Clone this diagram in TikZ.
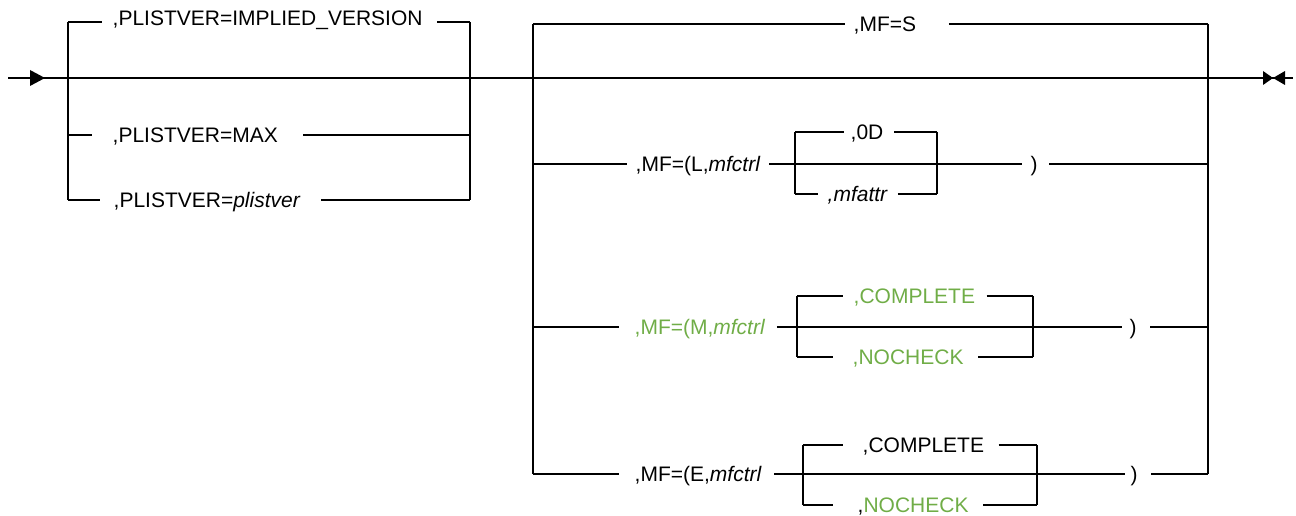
\documentclass[tikz,border=0pt]{standalone}
\usepackage{fontspec}
\setmainfont{Liberation Sans}
\usetikzlibrary{calc}
\definecolor{sgreen}{HTML}{70AD47}
\begin{document}
\begin{tikzpicture}[x=0.75pt,y=-0.75pt,line width=1pt,
  lbl/.style={anchor=west,inner sep=0pt,text height=11.3pt,text depth=0pt,font=\fontsize{15.75}{18}\selectfont},
  grn/.style={text=sgreen}]
\useasboundingbox (0,0) rectangle (1296,516);
% main line
\coordinate (start) at (8,78);
\coordinate (tipA) at (45,78);
\coordinate (endT) at (1273,78);
\coordinate (stop) at (1293,78);
\draw (start) -- (stop);
\fill ($(tipA)+(-15,-8)$) -- (tipA) -- ($(tipA)+(-15,8)$) -- cycle;
\fill ($(endT)+(-10,-7)$) -- (endT) -- ($(endT)+(-10,7)$) -- cycle;
\fill ($(endT)+(12,-7)$) -- (endT) -- ($(endT)+(12,7)$) -- cycle;
% left group
\coordinate (aTL) at (68,22); \coordinate (aBL) at (68,200);
\coordinate (aTR) at (470,22); \coordinate (aBR) at (470,200);
\coordinate (aML) at (68,135); \coordinate (aMR) at (470,135);
\draw (aTL) -- (aBL); \draw (aTR) -- (aBR);
\node[lbl,text depth=6pt] (p1) at (112,22) {,PLISTVER=IMPLIED\_VERSION};
\draw (aTL) -- ($(p1.west)+(-10,0)$);
\draw ($(p1.east)+(14,0)$) -- (aTR);
\node[lbl] (p2) at (112,135) {,PLISTVER=MAX};
\draw (aML) -- ($(p2.west)+(-20,0)$);
\draw ($(p2.east)+(25,0)$) -- (aMR);
\node[lbl] (p3) at (113,200) {,PLISTVER=\textit{plistver}};
\draw (aBL) -- ($(p3.west)+(-13,0)$);
\draw ($(p3.east)+(20,0)$) -- (aBR);
% right group
\coordinate (bTL) at (533,24); \coordinate (bBL) at (533,474);
\coordinate (bTR) at (1208,24); \coordinate (bBR) at (1208,474);
\draw (bTL) -- (bBL); \draw (bTR) -- (bBR);
\node[lbl] (s1) at (853,24) {,MF=S};
\draw (bTL) -- ($(s1.west)+(-8,0)$);
\draw ($(s1.east)+(32,0)$) -- (bTR);
% L branch
\coordinate (bL) at (533,164); \coordinate (bLr) at (1208,164);
\node[lbl] (l1) at (635,164) {,MF=(L,\textit{mfctrl}};
\draw (bL) -- ($(l1.west)+(-8,0)$);
\node[lbl] (lp) at (1030,164) {)};
\draw ($(l1.east)+(8,0)$) -- ($(lp.west)+(-8,0)$);
\draw ($(lp.east)+(11,0)$) -- (bLr);
\coordinate (lbTL) at (795,132); \coordinate (lbBL) at (795,194);
\coordinate (lbTR) at (937,132); \coordinate (lbBR) at (937,194);
\draw (lbTL) -- (lbBL); \draw (lbTR) -- (lbBR);
\node[lbl] (l0d) at (850,132) {,0D};
\draw (lbTL) -- ($(l0d.west)+(-6,0)$); \draw ($(l0d.east)+(10,0)$) -- (lbTR);
\node[lbl] (lmf) at (827,194) {\itshape ,mfattr};
\draw (lbBL) -- ($(lmf.west)+(-9,0)$); \draw ($(lmf.east)+(10,0)$) -- (lbBR);
% M branch
\coordinate (bM) at (533,327); \coordinate (bMr) at (1208,327);
\node[lbl,grn] (m1) at (634,327) {,MF=(M,\textit{mfctrl}};
\draw (bM) -- ($(m1.west)+(-15,0)$);
\node[lbl] (mp) at (1129,327) {)};
\draw ($(m1.east)+(11,0)$) -- ($(mp.west)+(-7,0)$);
\draw ($(mp.east)+(13,0)$) -- (bMr);
\coordinate (mbTL) at (797,296); \coordinate (mbBL) at (797,357);
\coordinate (mbTR) at (1033,296); \coordinate (mbBR) at (1033,357);
\draw (mbTL) -- (mbBL); \draw (mbTR) -- (mbBR);
\node[lbl,grn] (mc) at (853,296) {,COMPLETE};
\draw (mbTL) -- ($(mc.west)+(-10,0)$); \draw ($(mc.east)+(11,0)$) -- (mbTR);
\node[lbl,grn] (mn) at (852,357) {,NOCHECK};
\draw (mbBL) -- ($(mn.west)+(-19,0)$); \draw ($(mn.east)+(14,0)$) -- (mbBR);
% E branch
\coordinate (bE) at (533,474);
\node[lbl] (e1) at (634,474) {,MF=(E,\textit{mfctrl}};
\draw (bE) -- ($(e1.west)+(-15,0)$);
\node[lbl] (ep) at (1130,474) {)};
\draw ($(e1.east)+(12,0)$) -- ($(ep.west)+(-5,0)$);
\draw ($(ep.east)+(13,0)$) -- (bBR);
\coordinate (ebTL) at (803,445); \coordinate (ebBL) at (803,505);
\coordinate (ebTR) at (1037,445); \coordinate (ebBR) at (1037,505);
\draw (ebTL) -- (ebBL); \draw (ebTR) -- (ebBR);
\node[lbl] (ec) at (862,445) {,COMPLETE};
\draw (ebTL) -- ($(ec.west)+(-19,0)$); \draw ($(ec.east)+(14,0)$) -- (ebTR);
\node[lbl] (en) at (857,505) {,\textcolor{sgreen}{NOCHECK}};
\draw (ebBL) -- ($(en.west)+(-24,0)$); \draw ($(en.east)+(14,0)$) -- (ebBR);
\end{tikzpicture}
\end{document}
